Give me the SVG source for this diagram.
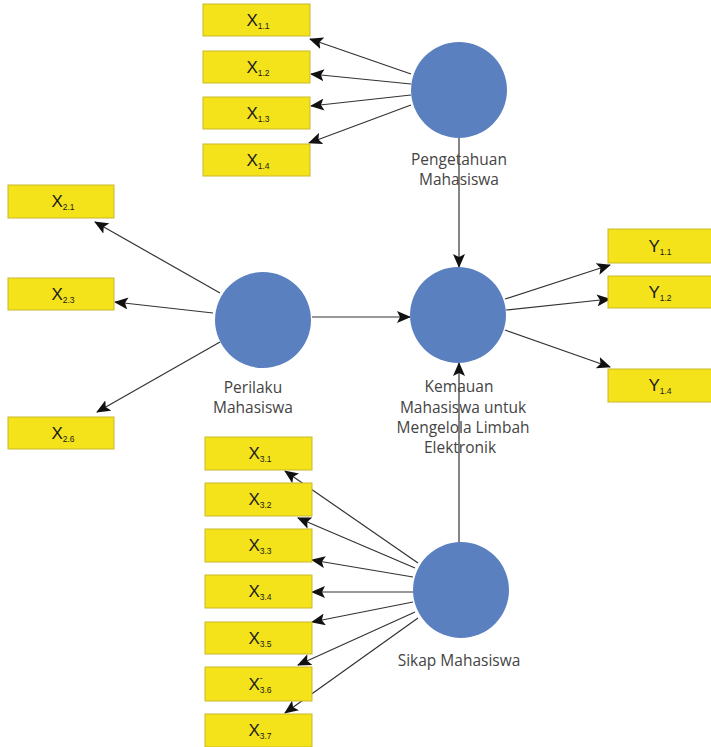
<svg xmlns="http://www.w3.org/2000/svg" width="711" height="747" viewBox="0 0 711 747">
<style>
.box{fill:#F4E31A;stroke:#C9B92A;stroke-width:1}
.lv{fill:#5B80C0}
.bl{font-family:"Liberation Sans",Arial,sans-serif;font-size:17px;fill:#1a1a1a;text-anchor:middle}
.sub{font-size:8.5px}
.cl{font-family:"Open Sans","Liberation Sans",sans-serif;font-size:15.5px;fill:#444;text-anchor:middle}
.ln{stroke:#333;stroke-width:1.2;fill:none;marker-end:url(#ah)}
</style>
<defs>
<marker id="ah" markerUnits="userSpaceOnUse" markerWidth="14" markerHeight="12" refX="13" refY="6" orient="auto">
<path d="M0,0 L14,6 L0,12 L3,6 Z" fill="#111"/>
</marker>
</defs>
<rect width="711" height="747" fill="#fff"/>
<g id="connectors">
<line class="ln" x1="411" y1="74" x2="310" y2="39"/>
<line class="ln" x1="411" y1="84" x2="311" y2="74"/>
<line class="ln" x1="411" y1="95" x2="311" y2="106"/>
<line class="ln" x1="411" y1="105" x2="309" y2="143"/>
<line class="ln" x1="220" y1="293" x2="95" y2="222"/>
<line class="ln" x1="213" y1="313" x2="115" y2="302"/>
<line class="ln" x1="220" y1="342" x2="97" y2="412"/>
<line class="ln" x1="312" y1="317" x2="410" y2="317"/>
<line class="ln" x1="459" y1="138" x2="459" y2="267"/>
<line class="ln" x1="459" y1="543" x2="459" y2="363"/>
<line class="ln" x1="505" y1="299" x2="610" y2="265"/>
<line class="ln" x1="506" y1="310" x2="610" y2="299"/>
<line class="ln" x1="505" y1="330" x2="610" y2="367"/>
<line class="ln" x1="418" y1="563" x2="285" y2="471"/>
<line class="ln" x1="415" y1="568" x2="298" y2="518"/>
<line class="ln" x1="413" y1="577" x2="312" y2="560"/>
<line class="ln" x1="413" y1="592" x2="312" y2="592"/>
<line class="ln" x1="413" y1="602" x2="312" y2="622"/>
<line class="ln" x1="415" y1="612" x2="298" y2="665"/>
<line class="ln" x1="418" y1="618" x2="285" y2="713"/>
</g>
<g id="pengetahuan"><circle class="lv" cx="459" cy="90" r="48"/><text class="cl" x="459" y="165">Pengetahuan</text><text class="cl" x="459" y="185">Mahasiswa</text></g>
<g id="perilaku"><circle class="lv" cx="263" cy="320" r="48"/><text class="cl" x="253" y="393">Perilaku</text><text class="cl" x="253" y="413">Mahasiswa</text></g>
<g id="kemauan"><circle class="lv" cx="458" cy="315" r="48"/><text class="cl" x="459" y="392">Kemauan</text><text class="cl" x="463" y="413">Mahasiswa untuk</text><text class="cl" x="463" y="433">Mengelola Limbah</text><text class="cl" x="460" y="453">Elektronik</text></g>
<g id="sikap"><circle class="lv" cx="461" cy="590" r="48"/><text class="cl" x="459" y="666">Sikap Mahasiswa</text></g>
<g id="x11"><rect class="box" x="203" y="4" width="107" height="32"/><text class="bl" x="258" y="26">X<tspan class="sub" dy="3">1.1</tspan></text></g>
<g id="x12"><rect class="box" x="203" y="51" width="107" height="32"/><text class="bl" x="258" y="73">X<tspan class="sub" dy="3">1.2</tspan></text></g>
<g id="x13"><rect class="box" x="203" y="97" width="107" height="32"/><text class="bl" x="258" y="119">X<tspan class="sub" dy="3">1.3</tspan></text></g>
<g id="x14"><rect class="box" x="203" y="144" width="107" height="32"/><text class="bl" x="258" y="166">X<tspan class="sub" dy="3">1.4</tspan></text></g>
<g id="x21"><rect class="box" x="8" y="185" width="106" height="33"/><text class="bl" x="63" y="207">X<tspan class="sub" dy="3">2.1</tspan></text></g>
<g id="x23"><rect class="box" x="8" y="278" width="106" height="32"/><text class="bl" x="63" y="300">X<tspan class="sub" dy="3">2.3</tspan></text></g>
<g id="x26"><rect class="box" x="8" y="417" width="106" height="32"/><text class="bl" x="63" y="439">X<tspan class="sub" dy="3">2.6</tspan></text></g>
<g id="y11"><rect class="box" x="608" y="229" width="104" height="34"/><text class="bl" x="660" y="252">Y<tspan class="sub" dy="3">1.1</tspan></text></g>
<g id="y12"><rect class="box" x="608" y="276" width="104" height="32"/><text class="bl" x="660" y="298">Y<tspan class="sub" dy="3">1.2</tspan></text></g>
<g id="y14"><rect class="box" x="608" y="369" width="104" height="33"/><text class="bl" x="660" y="391">Y<tspan class="sub" dy="3">1.4</tspan></text></g>
<g id="x31"><rect class="box" x="205" y="437" width="107" height="33"/><text class="bl" x="260" y="459">X<tspan class="sub" dy="3">3.1</tspan></text></g>
<g id="x32"><rect class="box" x="205" y="483" width="107" height="33"/><text class="bl" x="260" y="505">X<tspan class="sub" dy="3">3.2</tspan></text></g>
<g id="x33"><rect class="box" x="205" y="529" width="107" height="33"/><text class="bl" x="260" y="551">X<tspan class="sub" dy="3">3.3</tspan></text></g>
<g id="x34"><rect class="box" x="205" y="575" width="107" height="33"/><text class="bl" x="260" y="597">X<tspan class="sub" dy="3">3.4</tspan></text></g>
<g id="x35"><rect class="box" x="205" y="622" width="107" height="32"/><text class="bl" x="260" y="644">X<tspan class="sub" dy="3">3.5</tspan></text></g>
<g id="x36"><rect class="box" x="205" y="667" width="107" height="34"/><text class="bl" x="260" y="690">X<tspan class="sub" dy="-9">-</tspan><tspan class="sub" dx="-3" dy="12">3.6</tspan></text></g>
<g id="x37"><rect class="box" x="205" y="714" width="107" height="33"/><text class="bl" x="260" y="736">X<tspan class="sub" dy="3">3.7</tspan></text></g>
</svg>
